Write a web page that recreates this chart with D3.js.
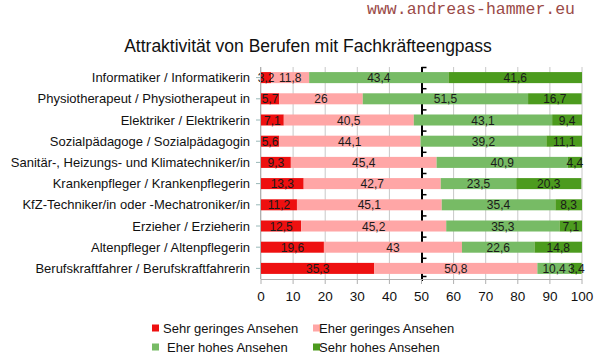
<!DOCTYPE html>
<html><head><meta charset="utf-8">
<script src="https://cdn.jsdelivr.net/npm/d3@7"></script>
<style>body{margin:0;background:#fff}svg{display:block}text{font-family:"Liberation Sans",Arial,sans-serif}</style>
</head><body><svg id="c" width="606" height="360"></svg>
<script>
const categories = ["Informatiker / Informatikerin","Physiotherapeut / Physiotherapeut in","Elektriker / Elektrikerin","Sozialpädagoge / Sozialpädagogin","Sanitär-, Heizungs- und Klimatechniker/in","Krankenpfleger / Krankenpflegerin","KfZ-Techniker/in oder -Mechatroniker/in","Erzieher / Erzieherin","Altenpfleger / Altenpflegerin","Berufskraftfahrer / Berufskraftfahrerin"];
const seriesNames = ["Sehr geringes Ansehen","Eher geringes Ansehen","Eher hohes Ansehen","Sehr hohes Ansehen"];
const sehrGering = [3.2,5.7,7.1,5.6,9.3,13.3,11.2,12.5,19.6,35.3];
const eherGering = [11.8,26,40.5,44.1,45.4,42.7,45.1,45.2,43,50.8];
const eherHoch = [43.4,51.5,43.1,39.2,40.9,23.5,35.4,35.3,22.6,10.4];
const sehrHoch = [41.6,16.7,9.4,11.1,4.4,20.3,8.3,7.1,14.8,3.4];
const xTicks = [0,10,20,30,40,50,60,70,80,90,100];
const markerValue = 50;
const colors = ["#ee1010","#ffa6a6","#77bb65","#4c9b1e"];

(function(){
const svg = d3.select("#c");
const pL = 261, pR = 582, pT = 67, pB = 279;
const x = d3.scaleLinear().domain([0,100]).range([pL,pR]);
const y = d3.scaleBand().domain(categories).range([pT,pB]).paddingInner(0.48).paddingOuter(0.24);
const yb = d3.scaleBand().domain(categories).range([pT,pB]);

svg.append("text").attr("x",575).attr("y",14).attr("text-anchor","end")
  .style("font-family","'Liberation Mono','DejaVu Sans Mono',monospace").style("font-size","16.5px").attr("fill","#9a4a48").text("www.andreas-hammer.eu");
svg.append("text").attr("x",308).attr("y",52).attr("text-anchor","middle").style("font-size","17.5px").attr("fill","#111").text("Attraktivität von Berufen mit Fachkräfteengpass");

svg.append("g").selectAll("line").data(xTicks).join("line")
  .attr("x1",d=>x(d)).attr("x2",d=>x(d)).attr("y1",pT).attr("y2",pB).attr("stroke","#c8c8c8").attr("stroke-width",1);

const mk = svg.append("g");
mk.append("line").attr("x1",x(markerValue)+0.5).attr("x2",x(markerValue)+0.5).attr("y1",pT).attr("y2",pB+2).attr("stroke","#000").attr("stroke-width",2);
const bounds = categories.map(c=>yb(c)).concat([pB-3]);
mk.selectAll("line.s").data(bounds).join("line").attr("class","s")
  .attr("x1",x(markerValue)).attr("x2",x(markerValue)+5).attr("y1",d=>d+0.5).attr("y2",d=>d+0.5).attr("stroke","#000").attr("stroke-width",1.5);

const stackData = categories.map((c,i)=>({cat:c,s0:sehrGering[i],s1:eherGering[i],s2:eherHoch[i],s3:sehrHoch[i]}));
const stack = d3.stack().keys(["s0","s1","s2","s3"])(stackData);
const gBars = svg.append("g");
stack.forEach((layer,k)=>{
  gBars.selectAll(null).data(layer).join("rect")
    .attr("x",d=>x(d[0])).attr("width",d=>Math.max(0,Math.min(x(d[1]),pR)-x(d[0])))
    .attr("y",d=>y(d.data.cat)).attr("height",y.bandwidth()).attr("fill",colors[k]);
});
stack.forEach((layer,k)=>{
  gBars.selectAll(null).data(layer).join("text")
    .attr("x",d=>(x(d[0])+Math.min(x(d[1]),pR))/2).attr("y",d=>y(d.data.cat)+y.bandwidth()/2+4.5)
    .attr("text-anchor","middle").style("font-size","12px").attr("fill","#1a1a1a")
    .text(d=>String(+(d[1]-d[0]).toFixed(1)).replace(".",","));
});

svg.append("line").attr("x1",pL).attr("x2",pR).attr("y1",pB+0.5).attr("y2",pB+0.5).attr("stroke","#b0b0b0");
svg.append("line").attr("x1",pL-0.5).attr("x2",pL-0.5).attr("y1",pT).attr("y2",pB).attr("stroke","#b0b0b0");
const xa = svg.append("g");
xa.selectAll("line").data(xTicks).join("line").attr("x1",d=>x(d)).attr("x2",d=>x(d)).attr("y1",pB).attr("y2",pB+5).attr("stroke","#b0b0b0");
xa.selectAll("text").data(xTicks).join("text").attr("x",d=>x(d)).attr("y",301).attr("text-anchor","middle").style("font-size","13.5px").attr("fill","#111").text(d=>d);
const ya = svg.append("g");
ya.selectAll("line").data(categories).join("line").attr("x1",pL-5).attr("x2",pL).attr("y1",d=>yb(d)+yb.bandwidth()/2).attr("y2",d=>yb(d)+yb.bandwidth()/2).attr("stroke","#9ab8b8");
ya.selectAll("text").data(categories).join("text").attr("x",250).attr("y",d=>y(d)+y.bandwidth()/2+4.5).attr("text-anchor","end").style("font-size","13px").attr("fill","#111").text(d=>d);

const legPos = [[152,328,163],[313,328,319],[152,347,167],[313,347,319]];
const lg = svg.append("g");
seriesNames.forEach((n,i)=>{
  const p = legPos[i];
  lg.append("rect").attr("x",p[0]).attr("y",p[1]-3.5).attr("width",7).attr("height",7).attr("fill",colors[i]);
  lg.append("text").attr("x",p[2]).attr("y",p[1]+4.5).style("font-size","13px").attr("fill","#111").text(n);
});
})();
</script></body></html>
